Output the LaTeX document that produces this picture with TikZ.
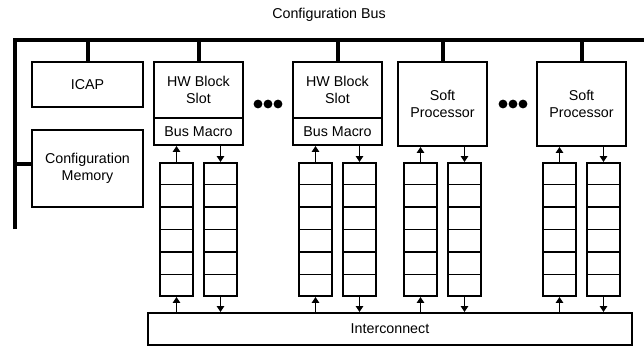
\documentclass[tikz,border=0pt]{standalone}
\usepackage{fontspec}
\setmainfont{Liberation Sans}
\usetikzlibrary{arrows.meta,calc}

\begin{document}
\begin{tikzpicture}[x=0.75pt,y=-0.75pt]
\tikzstyle{box}=[draw,line width=1.4pt,inner sep=0pt,align=center,font=\fontsize{10.7}{13}\selectfont]
\tikzstyle{fifo}=[draw,line width=1.4pt,minimum width=24.75pt,minimum height=99.75pt,inner sep=0pt]
\tikzstyle{bus}=[line width=3pt]
\tikzstyle{link}=[line width=1.4pt,-{Triangle[length=4.5pt,width=5.5pt]}]
\useasboundingbox (0,0) rectangle (644,347);
\node[font=\fontsize{10.7}{13}\selectfont] (title) at (329,15) {Configuration Bus};
\coordinate (busL) at (15,40);
\coordinate (busR) at (644,40);
\coordinate (busB) at (15,229);
\draw[bus] (busB) -- (busL) -- (busR);
\node[box,minimum width=83.25pt,minimum height=33.75pt] (icap) at (87.5,84.5) {ICAP};
\node[box,minimum width=83.25pt,minimum height=57.75pt] (cfgmem) at (87.5,168.5) {Configuration\\Memory};
\node[box,minimum width=363pt,minimum height=24pt] (ic) at (390,329) {Interconnect};
% slots and processors
\foreach \name/\x in {hwa/198.5,hwb/337.5} {
	\node[box,minimum width=66.75pt,minimum height=42pt] (\name) at (\x,90) {HW Block\\Slot};
	\node[box,minimum width=66.75pt,minimum height=20.25pt] (\name-bm) at (\x,131.5) {Bus Macro};
}
\foreach \name/\x in {spa/442.5,spb/581.5}
	\node[box,minimum width=66.75pt,minimum height=63pt] (\name) at (\x,104) {Soft\\Processor};
% bus stubs
\foreach \name in {icap,hwa,hwb,spa,spb}
	\draw[bus] (\name.north |- busL) -- (\name.north);
\draw[bus] (busB |- cfgmem.west) ++(0,-5) -- ([yshift=3.75pt]cfgmem.west);
% fifos
\foreach \col/\bot/\x in {hwa/hwa-bm/198.5,hwb/hwb-bm/337.5,spa/spa/442.5,spb/spb/581.5} {
	\node[fifo] (\col-in) at (\x-22,229.5) {};
	\node[fifo] (\col-out) at (\x+22,229.5) {};
	\foreach \f in {in,out}
		\foreach \k in {1,...,5}
			\draw[line width=1.4pt] ($(\col-\f.north west)!\k/6!(\col-\f.south west)$) -- ($(\col-\f.north east)!\k/6!(\col-\f.south east)$);
	\draw[link] (\col-in.south |- ic.north) -- (\col-in.south);
	\draw[link] (\col-in.north) -- (\col-in.north |- \bot.south);
	\draw[link] (\col-out.north |- \bot.south) -- (\col-out.north);
	\draw[link] (\col-out.south) -- (\col-out.south |- ic.north);
}
% dots
\foreach \x in {258,268,278,503,513,523}
	\fill (\x,104) circle (3.3pt);
\end{tikzpicture}
\end{document}
